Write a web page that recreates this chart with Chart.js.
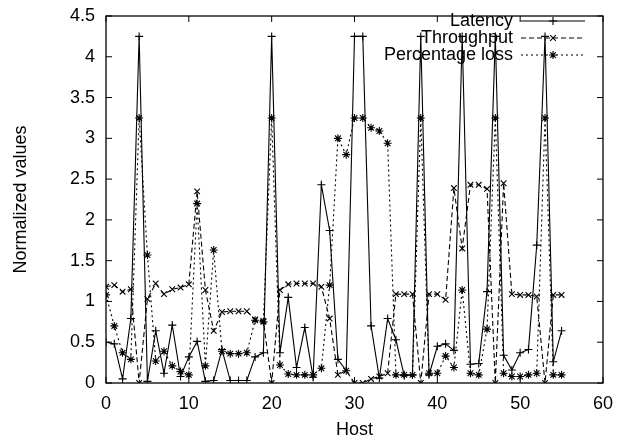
<!DOCTYPE html>
<html lang="en">
<head>
    <meta charset="UTF-8">
    <title>Normalized values per host</title>
    <script src="https://cdn.jsdelivr.net/npm/chart.js"></script>
    <style>
        body {
            margin: 0;
            padding: 0;
            background: #fff;
        }
        .chart-container {
            width: 633px;
            height: 444px;
            position: relative;
        }
    </style>
</head>
<body>

<div class="chart-container">
    <canvas id="hostChart"></canvas>
</div>

<script>
    // Host index on the x axis
    const hosts = [0, 1, 2, 3, 4, 5, 6, 7, 8, 9, 10, 11, 12, 13, 14, 15, 16, 17, 18, 19,
        20, 21, 22, 23, 24, 25, 26, 27, 28, 29, 30, 31, 32, 33, 34, 35, 36, 37, 38, 39,
        40, 41, 42, 43, 44, 45, 46, 47, 48, 49, 50, 51, 52, 53, 54, 55];

    const latency = [0.5, 0.48, 0.05, 0.79, 4.25, 0.02, 0.64, 0.12, 0.71, 0.08,
        0.32, 0.51, 0.02, 0.03, 0.41, 0.03, 0.03, 0.03, 0.32, 0.37,
        4.25, 0.37, 1.05, 0.19, 0.68, 0.07, 2.43, 1.87, 0.29, 0.15,
        4.25, 4.25, 0.7, 0.06, 0.79, 0.53, 0.09, 0.1, 4.25, 0.1,
        0.45, 0.48, 0.4, 4.25, 0.23, 0.24, 1.12, 4.25, 0.34, 0.16,
        0.37, 0.41, 1.69, 4.25, 0.26, 0.64];

    const throughput = [1.18, 1.2, 1.12, 1.15, 0, 1.03, 1.22, 1.09, 1.15, 1.17,
        1.21, 2.35, 1.14, 0.64, 0.87, 0.88, 0.88, 0.88, 0.78, 0.76,
        0, 1.14, 1.21, 1.22, 1.22, 1.22, 1.18, 0.79, 0.1, 0.15,
        0, 0, 0.05, 0.08, 0.12, 1.09, 1.09, 1.09, 0, 1.09,
        1.09, 1.02, 2.39, 1.65, 2.43, 2.43, 2.38, 0, 2.45, 1.09,
        1.08, 1.08, 1.06, 0, 1.08, 1.08];

    const loss = [1.08, 0.7, 0.37, 0.29, 3.25, 1.57, 0.27, 0.39, 0.21, 0.14,
        0.1, 2.2, 0.21, 1.63, 0.39, 0.36, 0.36, 0.37, 0.77, 0.75,
        3.25, 0.22, 0.11, 0.1, 0.1, 0.1, 0.18, 1.2, 3.0, 2.8,
        3.25, 3.25, 3.13, 3.09, 2.94, 0.1, 0.1, 0.1, 3.25, 0.12,
        0.12, 0.33, 0.19, 1.14, 0.12, 0.1, 0.66, 3.25, 0.12, 0.08,
        0.08, 0.1, 0.12, 3.25, 0.1, 0.1];

    const xTicks = [0, 10, 20, 30, 40, 50, 60];
    const yTicks = [0, 0.5, 1, 1.5, 2, 2.5, 3, 3.5, 4, 4.5];

    const FONT = '"Liberation Sans", Arial, Helvetica, sans-serif';

    function toPoints(values) {
        return values.map((v, i) => ({ x: hosts[i], y: v }));
    }

    // gnuplot style frame with inward ticks on all four sides
    const framePlugin = {
        id: 'frame',
        afterDraw(chart) {
            const ctx = chart.ctx;
            const a = chart.chartArea;
            const xs = chart.scales.x;
            const ys = chart.scales.y;
            const len = 6;
            ctx.save();
            ctx.strokeStyle = '#000';
            ctx.lineWidth = 1.3;
            ctx.strokeRect(a.left, a.top, a.right - a.left, a.bottom - a.top);
            ctx.lineWidth = 1;
            ctx.beginPath();
            xTicks.forEach(v => {
                const px = xs.getPixelForValue(v);
                ctx.moveTo(px, a.bottom);
                ctx.lineTo(px, a.bottom - len);
                ctx.moveTo(px, a.top);
                ctx.lineTo(px, a.top + len);
            });
            yTicks.forEach(v => {
                const py = ys.getPixelForValue(v);
                ctx.moveTo(a.left, py);
                ctx.lineTo(a.left + len, py);
                ctx.moveTo(a.right, py);
                ctx.lineTo(a.right - len, py);
            });
            ctx.stroke();
            ctx.restore();
        }
    };

    // legend in the top right corner: text right aligned, sample on the right
    const keyPlugin = {
        id: 'key',
        afterDraw(chart) {
            const ctx = chart.ctx;
            const a = chart.chartArea;
            ctx.save();
            ctx.font = '18px ' + FONT;
            ctx.fillStyle = '#000';
            ctx.textAlign = 'right';
            ctx.textBaseline = 'middle';
            chart.data.datasets.forEach((ds, i) => {
                const y = a.top + 5 + i * 17;
                const textRight = a.right - 90;
                const x0 = a.right - 82;
                const x1 = a.right - 18;
                ctx.fillText(ds.label, textRight, y);
                ctx.strokeStyle = '#000';
                ctx.lineWidth = ds.borderWidth;
                ctx.setLineDash(ds.borderDash || []);
                ctx.beginPath();
                ctx.moveTo(x0, y);
                ctx.lineTo(x1, y);
                ctx.stroke();
                ctx.setLineDash([]);
                if (Chart.helpers && Chart.helpers.drawPoint) {
                    Chart.helpers.drawPoint(ctx, {
                        pointStyle: ds.pointStyle,
                        radius: ds.pointRadius,
                        borderWidth: 1,
                        rotation: 0
                    }, (x0 + x1) / 2, y);
                }
            });
            ctx.restore();
        }
    };

    function makeDataset(label, values, style, dash) {
        return {
            label: label,
            data: toPoints(values),
            borderColor: '#000',
            backgroundColor: '#000',
            borderWidth: 1.1,
            borderDash: dash,
            pointStyle: style,
            pointRadius: 4,
            pointBorderWidth: 1.1,
            pointBorderColor: '#000',
            fill: false,
            tension: 0
        };
    }

    const ctx = document.getElementById('hostChart').getContext('2d');
    new Chart(ctx, {
        type: 'line',
        data: {
            datasets: [
                makeDataset('Latency', latency, 'cross', []),
                makeDataset('Throughput', throughput, 'crossRot', [5, 3]),
                makeDataset('Percentage loss', loss, 'star', [2, 3])
            ]
        },
        options: {
            responsive: true,
            maintainAspectRatio: false,
            animation: false,
            layout: {
                padding: { top: 16, right: 30, left: 0, bottom: 0 }
            },
            plugins: {
                legend: { display: false },
                tooltip: { enabled: false }
            },
            scales: {
                x: {
                    type: 'linear',
                    min: 0,
                    max: 60,
                    afterFit(scale) { scale.height = 61; },
                    afterBuildTicks(scale) { scale.ticks = xTicks.map(v => ({ value: v })); },
                    grid: { display: false, drawTicks: false },
                    border: { display: false },
                    ticks: {
                        color: '#000',
                        font: { size: 18, family: FONT },
                        padding: 10,
                        maxRotation: 0
                    },
                    title: {
                        display: true,
                        text: 'Host',
                        color: '#000',
                        font: { size: 18, family: FONT },
                        padding: { top: 0, bottom: 3 }
                    }
                },
                y: {
                    min: 0,
                    max: 4.5,
                    afterFit(scale) {
                        scale.width = 106;
                        scale.paddingTop = 0;
                        scale.paddingBottom = 0;
                    },
                    afterBuildTicks(scale) { scale.ticks = yTicks.map(v => ({ value: v })); },
                    grid: { display: false, drawTicks: false },
                    border: { display: false },
                    ticks: {
                        color: '#000',
                        font: { size: 18, family: FONT },
                        padding: 11,
                        callback: v => String(v)
                    },
                    title: {
                        display: true,
                        text: 'Normalized values',
                        color: '#000',
                        font: { size: 18, family: FONT },
                        padding: { top: 10, bottom: 12 }
                    }
                }
            }
        },
        plugins: [framePlugin, keyPlugin]
    });
</script>
</body>
</html>
